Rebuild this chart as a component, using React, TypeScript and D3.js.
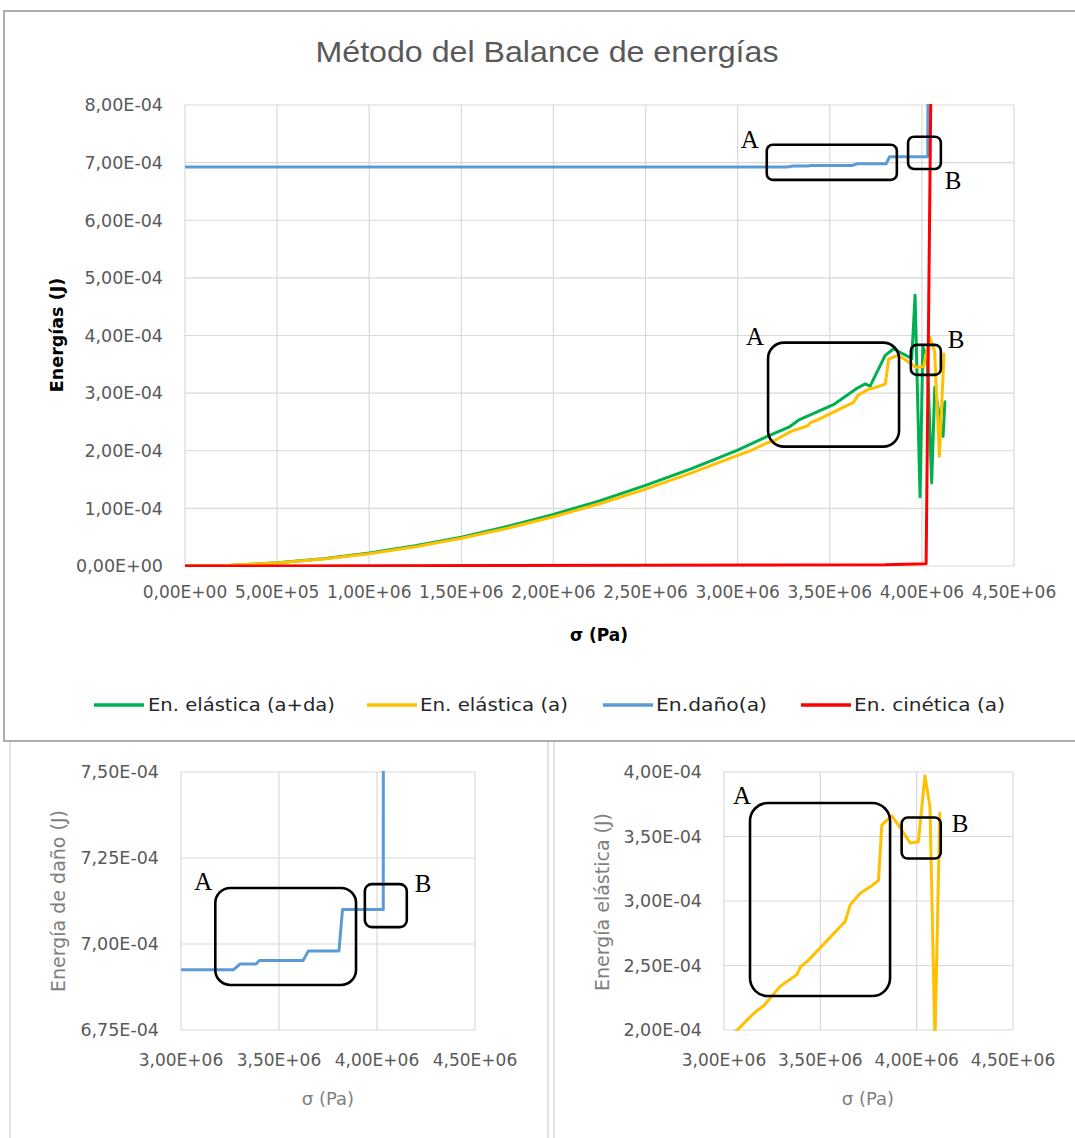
import * as d3 from "d3";

// σ in 1E+06 Pa, energies in 1E-04 J
const sigmaGreen = [0, 0.25, 0.5, 0.75, 1.0, 1.25, 1.5, 1.75, 2.0, 2.25, 2.5, 2.75, 3.0, 3.158, 3.284, 3.33, 3.52, 3.646, 3.692, 3.719, 3.8, 3.846, 3.945, 3.963, 3.99, 4.005, 4.03, 4.053, 4.07, 4.095, 4.115, 4.125];
const energyGreen = [0, 0.014, 0.056, 0.126, 0.224, 0.35, 0.5, 0.685, 0.895, 1.13, 1.4, 1.69, 2.01, 2.245, 2.42, 2.53, 2.8, 3.08, 3.16, 3.12, 3.65, 3.77, 3.6, 4.7, 1.2, 3.8, 3.62, 1.44, 3.1, 2.6, 2.25, 2.85];

const sigmaYellow = [0, 0.25, 0.5, 0.75, 1.0, 1.25, 1.5, 1.75, 2.0, 2.25, 2.5, 2.75, 3.0, 3.069, 3.155, 3.207, 3.293, 3.379, 3.397, 3.431, 3.603, 3.629, 3.655, 3.707, 3.759, 3.802, 3.819, 3.871, 3.914, 3.966, 4.009, 4.043, 4.069, 4.095, 4.12];
const energyYellow = [0, 0.013, 0.053, 0.12, 0.214, 0.334, 0.48, 0.654, 0.854, 1.08, 1.335, 1.615, 1.92, 2.0, 2.13, 2.19, 2.34, 2.43, 2.49, 2.53, 2.8, 2.84, 2.97, 3.06, 3.11, 3.16, 3.59, 3.66, 3.57, 3.45, 3.46, 3.97, 3.73, 1.9, 3.68];

const sigmaBlue = [0, 3.267, 3.302, 3.383, 3.4, 3.623, 3.65, 3.806, 3.824, 4.032, 4.034];
const energyBlue = [6.925, 6.925, 6.942, 6.942, 6.952, 6.952, 6.98, 6.98, 7.1, 7.1, 9.5];

const sigmaRed = [0, 3.8, 4.023, 4.051];
const energyRed = [0, 0.02, 0.04, 9.0];

const legendLabels = ["En. elástica (a+da)", "En. elástica (a)", "En.daño(a)", "En. cinética (a)"];
const seriesColors = ["#00b050", "#ffc000", "#5b9bd5", "#ff0000"];

const xTicksMain = [0, 0.5, 1, 1.5, 2, 2.5, 3, 3.5, 4, 4.5];
const yTicksMain = [0, 1, 2, 3, 4, 5, 6, 7, 8];
const xTicksZoom = [3, 3.5, 4, 4.5];
const yTicksDamage = [6.75, 7, 7.25, 7.5];
const yTicksElastic = [2, 2.5, 3, 3.5, 4];

type Pt = [number, number];
const zipPts = (a: number[], b: number[]): Pt[] => a.map((v, i) => [v, b[i]]);

const green = zipPts(sigmaGreen, energyGreen);
const yellow = zipPts(sigmaYellow, energyYellow);
const blue = zipPts(sigmaBlue, energyBlue);
const red = zipPts(sigmaRed, energyRed);

// 3,50E+06 style labels
const sci = (v: number) => {
  const [m, e] = v.toExponential(2).split("e");
  const sign = e[0] === "-" ? "-" : "+";
  return m.replace(".", ",") + "E" + sign + e.replace(/[+-]/, "").padStart(2, "0");
};

const FONT = "DejaVu Sans";

interface Box {
  label: string;
  x: [number, number];
  y: [number, number];
  r: number;
  side: "A" | "B";
  dx: number;
  dy: number;
  fromBottom?: boolean;
}

interface PlotProps {
  id: string;
  frame: { x0: number; x1: number; y0: number; y1: number };
  xDomain: [number, number];
  yDomain: [number, number];
  xTicks: number[];
  yTicks: number[];
  series: { pts: Pt[]; color: string }[];
  boxes: Box[];
  xLabelY: number;
}

const Plot = ({ id, frame, xDomain, yDomain, xTicks, yTicks, series, boxes, xLabelY }: PlotProps) => {
  const x = d3.scaleLinear().domain(xDomain).range([frame.x0, frame.x1]);
  const y = d3.scaleLinear().domain(yDomain).range([frame.y1, frame.y0]);
  const line = d3
    .line<Pt>()
    .x((d) => x(d[0]))
    .y((d) => y(d[1]));
  return (
    <g>
      <defs>
        <clipPath id={id}>
          <rect x={frame.x0} y={frame.y0 - 1} width={frame.x1 - frame.x0} height={frame.y1 - frame.y0 + 2} />
        </clipPath>
      </defs>
      {/* gridlines */}
      {yTicks.map((t) => (
        <line key={"gy" + t} x1={frame.x0} x2={frame.x1} y1={y(t)} y2={y(t)} stroke="#d9d9d9" strokeWidth={1.2} />
      ))}
      {xTicks.map((t) => (
        <line key={"gx" + t} x1={x(t)} x2={x(t)} y1={frame.y0} y2={frame.y1} stroke="#d9d9d9" strokeWidth={1.2} />
      ))}
      {/* tick labels */}
      {yTicks.map((t) => (
        <text key={"ly" + t} x={frame.x0 - 22} y={y(t)} dy="0.36em" textAnchor="end" fontFamily={FONT} fontSize={17.5} fill="#595959">
          {sci(t * 1e-4)}
        </text>
      ))}
      {xTicks.map((t) => (
        <text key={"lx" + t} x={x(t)} y={xLabelY} textAnchor="middle" fontFamily={FONT} fontSize={17} fill="#595959">
          {sci(t * 1e6)}
        </text>
      ))}
      {/* series */}
      <g clipPath={`url(#${id})`}>
        {series.map((s, i) => (
          <path key={i} d={line(s.pts) || ""} fill="none" stroke={s.color} strokeWidth={3} strokeLinejoin="round" strokeLinecap="round" />
        ))}
      </g>
      {/* annotation boxes */}
      {boxes.map((b, i) => {
        const bx0 = x(b.x[0]);
        const bx1 = x(b.x[1]);
        const by0 = y(b.y[1]);
        const by1 = y(b.y[0]);
        const isA = b.side === "A";
        return (
          <g key={"b" + i}>
            <rect x={bx0} y={by0} width={bx1 - bx0} height={by1 - by0} rx={b.r} ry={b.r} fill="none" stroke="#000" strokeWidth={2.6} />
            <text
              x={isA ? bx0 + b.dx : bx1 + b.dx}
              y={(b.fromBottom ? by1 : by0) + b.dy}
              textAnchor={isA ? "end" : "start"}
              fontFamily="Liberation Serif"
              fontSize={25}
              fill="#000"
            >
              {b.label}
            </text>
          </g>
        );
      })}
    </g>
  );
};

const topBoxes: Box[] = [
  { label: "A", side: "A", x: [3.158, 3.864], y: [6.7, 7.31], r: 6, dx: -8, dy: 3 },
  { label: "B", side: "B", x: [3.925, 4.103], y: [6.89, 7.45], r: 6, dx: 4, dy: 20, fromBottom: true },
  { label: "A", side: "A", x: [3.165, 3.876], y: [2.071, 3.877], r: 16, dx: -4, dy: 2 },
  { label: "B", side: "B", x: [3.94, 4.103], y: [3.316, 3.837], r: 6, dx: 7, dy: 3 },
];
const damageBoxes: Box[] = [
  { label: "A", side: "A", x: [3.175, 3.893], y: [6.881, 7.163], r: 15, dx: -3, dy: 2 },
  { label: "B", side: "B", x: [3.938, 4.152], y: [7.049, 7.174], r: 7, dx: 8, dy: 8 },
];
const elasticBoxes: Box[] = [
  { label: "A", side: "A", x: [3.135, 3.862], y: [2.263, 3.76], r: 18, dx: 1, dy: 1 },
  { label: "B", side: "B", x: [3.922, 4.125], y: [3.329, 3.647], r: 6, dx: 11, dy: 14 },
];

const legendX = [
  { line: 94, text: 148, w: 187 },
  { line: 367, text: 420, w: 148 },
  { line: 603, text: 656, w: 111 },
  { line: 801, text: 854, w: 151 },
];

export default function App() {
  return (
    <svg width={1075} height={1138} style={{ position: "absolute", left: 0, top: 0, background: "#fff" }}>
      <rect x={0} y={0} width={1075} height={1138} fill="#fff" />
      {/* panel borders */}
      <line x1={10} x2={10} y1={742} y2={1138} stroke="#d0d0d0" strokeWidth={1.2} />
      <line x1={548} x2={548} y1={742} y2={1138} stroke="#d0d0d0" strokeWidth={1.2} />
      <line x1={554} x2={554} y1={742} y2={1138} stroke="#d0d0d0" strokeWidth={1.2} />
      <rect x={4} y={11} width={1080} height={730} fill="#fff" stroke="#9a9a9a" strokeWidth={1.6} />

      <text x={547} y={62} textAnchor="middle" fontFamily="Liberation Sans" fontSize={30} fill="#595959" textLength={463} lengthAdjust="spacingAndGlyphs">
        Método del Balance de energías
      </text>

      <Plot
        id="clipTop"
        frame={{ x0: 185, x1: 1014, y0: 105, y1: 566 }}
        xDomain={[0, 4.5]}
        yDomain={[0, 8]}
        xTicks={xTicksMain}
        yTicks={yTicksMain}
        series={[
          { pts: green, color: seriesColors[0] },
          { pts: yellow, color: seriesColors[1] },
          { pts: blue, color: seriesColors[2] },
          { pts: red, color: seriesColors[3] },
        ]}
        boxes={topBoxes}
        xLabelY={598}
      />
      <text transform="translate(57,335) rotate(-90)" textAnchor="middle" dy="0.35em" fontFamily={FONT} fontWeight="bold" fontSize={17.5} fill="#000">
        Energías (J)
      </text>
      <text x={599} y={641} textAnchor="middle" fontFamily={FONT} fontWeight="bold" fontSize={17} fill="#000">
        σ (Pa)
      </text>

      {/* legend */}
      {legendLabels.map((l, i) => (
        <g key={l}>
          <line x1={legendX[i].line} x2={legendX[i].line + 50} y1={705} y2={705} stroke={seriesColors[i]} strokeWidth={3.5} />
          <text x={legendX[i].text} y={705} dy="0.36em" fontFamily={FONT} fontSize={18} fill="#262626" textLength={legendX[i].w} lengthAdjust="spacingAndGlyphs">
            {l}
          </text>
        </g>
      ))}

      {/* bottom-left: damage energy */}
      <Plot
        id="clipDamage"
        frame={{ x0: 181, x1: 475, y0: 772, y1: 1030 }}
        xDomain={[3, 4.5]}
        yDomain={[6.75, 7.5]}
        xTicks={xTicksZoom}
        yTicks={yTicksDamage}
        series={[{ pts: blue, color: seriesColors[2] }]}
        boxes={damageBoxes}
        xLabelY={1066}
      />
      <text transform="translate(58,901) rotate(-90)" textAnchor="middle" dy="0.35em" fontFamily={FONT} fontSize={19} fill="#7f7f7f">
        Energía de daño (J)
      </text>
      <text x={328} y={1105} textAnchor="middle" fontFamily={FONT} fontSize={18} fill="#7f7f7f">
        σ (Pa)
      </text>

      {/* bottom-right: elastic energy */}
      <Plot
        id="clipElastic"
        frame={{ x0: 724, x1: 1013, y0: 772, y1: 1030 }}
        xDomain={[3, 4.5]}
        yDomain={[2, 4]}
        xTicks={xTicksZoom}
        yTicks={yTicksElastic}
        series={[{ pts: yellow, color: seriesColors[1] }]}
        boxes={elasticBoxes}
        xLabelY={1066}
      />
      <text transform="translate(602,902) rotate(-90)" textAnchor="middle" dy="0.35em" fontFamily={FONT} fontSize={19} fill="#7f7f7f">
        Energía elástica (J)
      </text>
      <text x={868} y={1105} textAnchor="middle" fontFamily={FONT} fontSize={18} fill="#7f7f7f">
        σ (Pa)
      </text>
    </svg>
  );
}
